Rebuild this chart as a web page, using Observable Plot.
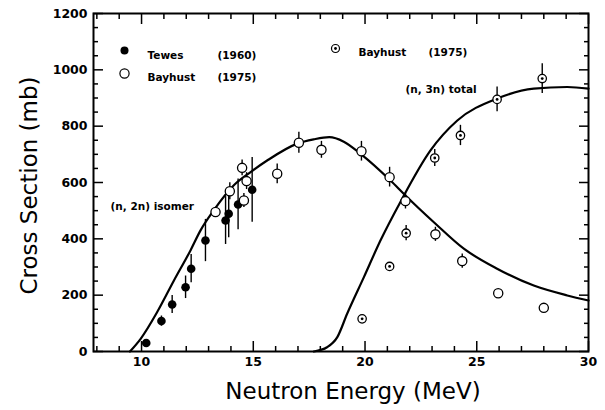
<!DOCTYPE html>
<html><head><meta charset="utf-8">
<script src="https://cdn.jsdelivr.net/npm/d3@7"></script>
<script src="https://cdn.jsdelivr.net/npm/@observablehq/plot@0.6"></script>
<style>
body{margin:0;background:#fff}
#chart svg{font-family:"DejaVu Sans",sans-serif;background:#fff}
</style></head><body><div id="chart"></div>
<script>
// Tewes (1960), filled circles: (n,2n) isomer
const tewesX = [10.21, 10.89, 11.37, 11.97, 12.22, 12.86, 13.76, 13.9, 14.32, 14.95];
const tewesY = [30, 108, 167, 228, 294, 394, 465, 489, 522, 574];
const tewesErr = [0, 18, 32, 40, 50, 75, 85, 85, 90, 115];

// Bayhust (1975), open circles: (n,2n) isomer
const bayIsoX = [13.31, 13.95, 14.5, 14.58, 14.7, 16.07, 17.04, 18.05, 19.84, 21.1, 21.81, 23.15, 24.35, 25.96, 28.0];
const bayIsoY = [495, 569, 652, 536, 605, 631, 741, 716, 711, 619, 534, 416, 321, 207, 155];
const bayIsoErr = [15, 30, 28, 25, 30, 35, 37, 30, 35, 35, 28, 25, 25, 0, 0];

// Bayhust (1975), circled dots: (n,3n) total
const bayTotX = [19.87, 21.1, 21.84, 23.12, 24.27, 25.91, 27.93];
const bayTotY = [116, 302, 420, 687, 767, 895, 969];
const bayTotErr = [0, 0, 27, 30, 36, 44, 53];

// evaluated curves
const isoCurveX = [9.48, 9.96, 10.7, 11.45, 12.19, 12.64, 13.23, 14.13, 14.88, 15.62, 16.97, 17.7, 18.4, 19.05, 19.83, 21.14, 21.81, 23.08, 24.42, 25.91, 27.55, 29.05, 30];
const isoCurveY = [0, 45, 140, 252, 359, 430, 501, 590, 637, 678, 738, 753, 761, 745, 700, 607, 554, 459, 365, 294, 234, 199, 181];
const totCurveX = [17.71, 18.3, 18.76, 19.2, 19.95, 20.69, 21.59, 22.93, 24.13, 25.91, 27.55, 29.05, 30];
const totCurveY = [0, 15, 51, 134, 264, 394, 532, 714, 820, 898, 933, 939, 933];

const xMajor = [10, 15, 20, 25, 30];
const xMinor = d3.range(8, 31).filter(d => d % 5 !== 0);
const yMajor = [0, 200, 400, 600, 800, 1000, 1200];
const yMinor = d3.range(50, 1200, 50).filter(d => d % 200 !== 0);

const rows = (xs, ys, es) => xs.map((x, i) => ({x, y: ys[i], e: es[i]}));
const tewes = rows(tewesX, tewesY, tewesErr);
const bayIso = rows(bayIsoX, bayIsoY, bayIsoErr);
const bayTot = rows(bayTotX, bayTotY, bayTotErr);
const isoCurve = isoCurveX.map((x, i) => ({x, y: isoCurveY[i]}));
const totCurve = totCurveX.map((x, i) => ({x, y: totCurveY[i]}));

const blank = () => "";
const plain = d => String(d);
const lbl = {fontSize: 10.5, fontWeight: "bold", textAnchor: "start", frameAnchor: "top-left"};

const chart = Plot.plot({
  width: 605,
  height: 410,
  marginLeft: 93,
  marginRight: 17,
  marginTop: 13,
  marginBottom: 59,
  x: {domain: [7.85, 30]},
  y: {domain: [0, 1200]},
  marks: [
    // tick labels
    Plot.axisY({ticks: yMajor, tickSize: 0, tickPadding: 6, tickFormat: plain, fontSize: 12.5, fontWeight: "bold", label: null}),
    Plot.axisX({ticks: xMajor, tickSize: 0, tickPadding: 6, tickFormat: plain, fontSize: 12.5, fontWeight: "bold", label: null}),
    // inward ticks
    Plot.axisY({anchor: "left", ticks: yMajor, tickSize: -10, tickFormat: blank, label: null, strokeWidth: 1.5}),
    Plot.axisY({anchor: "left", ticks: yMinor, tickSize: -5, tickFormat: blank, label: null, strokeWidth: 1.5}),
    Plot.axisY({anchor: "right", ticks: yMajor, tickSize: -10, tickFormat: blank, label: null, strokeWidth: 1.5}),
    Plot.axisY({anchor: "right", ticks: yMinor, tickSize: -5, tickFormat: blank, label: null, strokeWidth: 1.5}),
    Plot.axisX({anchor: "bottom", ticks: xMajor, tickSize: -10, tickFormat: blank, label: null, strokeWidth: 1.5}),
    Plot.axisX({anchor: "bottom", ticks: xMinor, tickSize: -5, tickFormat: blank, label: null, strokeWidth: 1.5}),
    Plot.axisX({anchor: "top", ticks: xMajor, tickSize: -10, tickFormat: blank, label: null, strokeWidth: 1.5}),
    Plot.axisX({anchor: "top", ticks: xMinor, tickSize: -5, tickFormat: blank, label: null, strokeWidth: 1.5}),
    Plot.frame({strokeWidth: 2}),
    // axis titles
    Plot.text(["Neutron Energy (MeV)"], {frameAnchor: "bottom", textAnchor: "middle", dx: 12, dy: 47, fontSize: 23}),
    Plot.text(["Cross Section (mb)"], {frameAnchor: "left", textAnchor: "middle", rotate: -90, dx: -64, dy: 3, fontSize: 23}),
    // curves
    Plot.line(isoCurve, {x: "x", y: "y", curve: "monotone-x", strokeWidth: 2.2}),
    Plot.line(totCurve, {x: "x", y: "y", curve: "monotone-x", strokeWidth: 2.2}),
    // error bars
    Plot.ruleX([...tewes, ...bayIso, ...bayTot].filter(d => d.e > 0), {x: "x", y1: d => d.y - d.e, y2: d => d.y + d.e, strokeWidth: 1.4}),
    // points
    Plot.dot(tewes, {x: "x", y: "y", r: 4.3, fill: "black"}),
    Plot.dot(bayIso, {x: "x", y: "y", r: 4.6, fill: "white", stroke: "black", strokeWidth: 1.3}),
    Plot.dot(bayTot, {x: "x", y: "y", r: 4.2, fill: "white", stroke: "black", strokeWidth: 1.3}),
    Plot.dot(bayTot, {x: "x", y: "y", r: 1.4, fill: "black"}),
    // legend
    Plot.dot([0], {frameAnchor: "top-left", dx: 31, dy: 37, r: 4, fill: "black"}),
    Plot.text(["Tewes"], {...lbl, dx: 54, dy: 38}),
    Plot.text(["(1960)"], {...lbl, dx: 124, dy: 38}),
    Plot.dot([0], {frameAnchor: "top-left", dx: 31, dy: 60, r: 4.6, fill: "white", stroke: "black", strokeWidth: 1.2}),
    Plot.text(["Bayhust"], {...lbl, dx: 54, dy: 60}),
    Plot.text(["(1975)"], {...lbl, dx: 124, dy: 60}),
    Plot.dot([0], {frameAnchor: "top-left", dx: 242, dy: 35, r: 4, fill: "white", stroke: "black", strokeWidth: 1.2}),
    Plot.dot([0], {frameAnchor: "top-left", dx: 242, dy: 35, r: 1.4, fill: "black"}),
    Plot.text(["Bayhust"], {...lbl, dx: 265, dy: 35}),
    Plot.text(["(1975)"], {...lbl, dx: 335, dy: 35}),
    // curve labels
    Plot.text(["(n, 3n) total"], {...lbl, dx: 312, dy: 72}),
    Plot.text(["(n, 2n) isomer"], {...lbl, dx: 17, dy: 189})
  ]
});
document.getElementById("chart").appendChild(chart);
</script>
</body></html>
